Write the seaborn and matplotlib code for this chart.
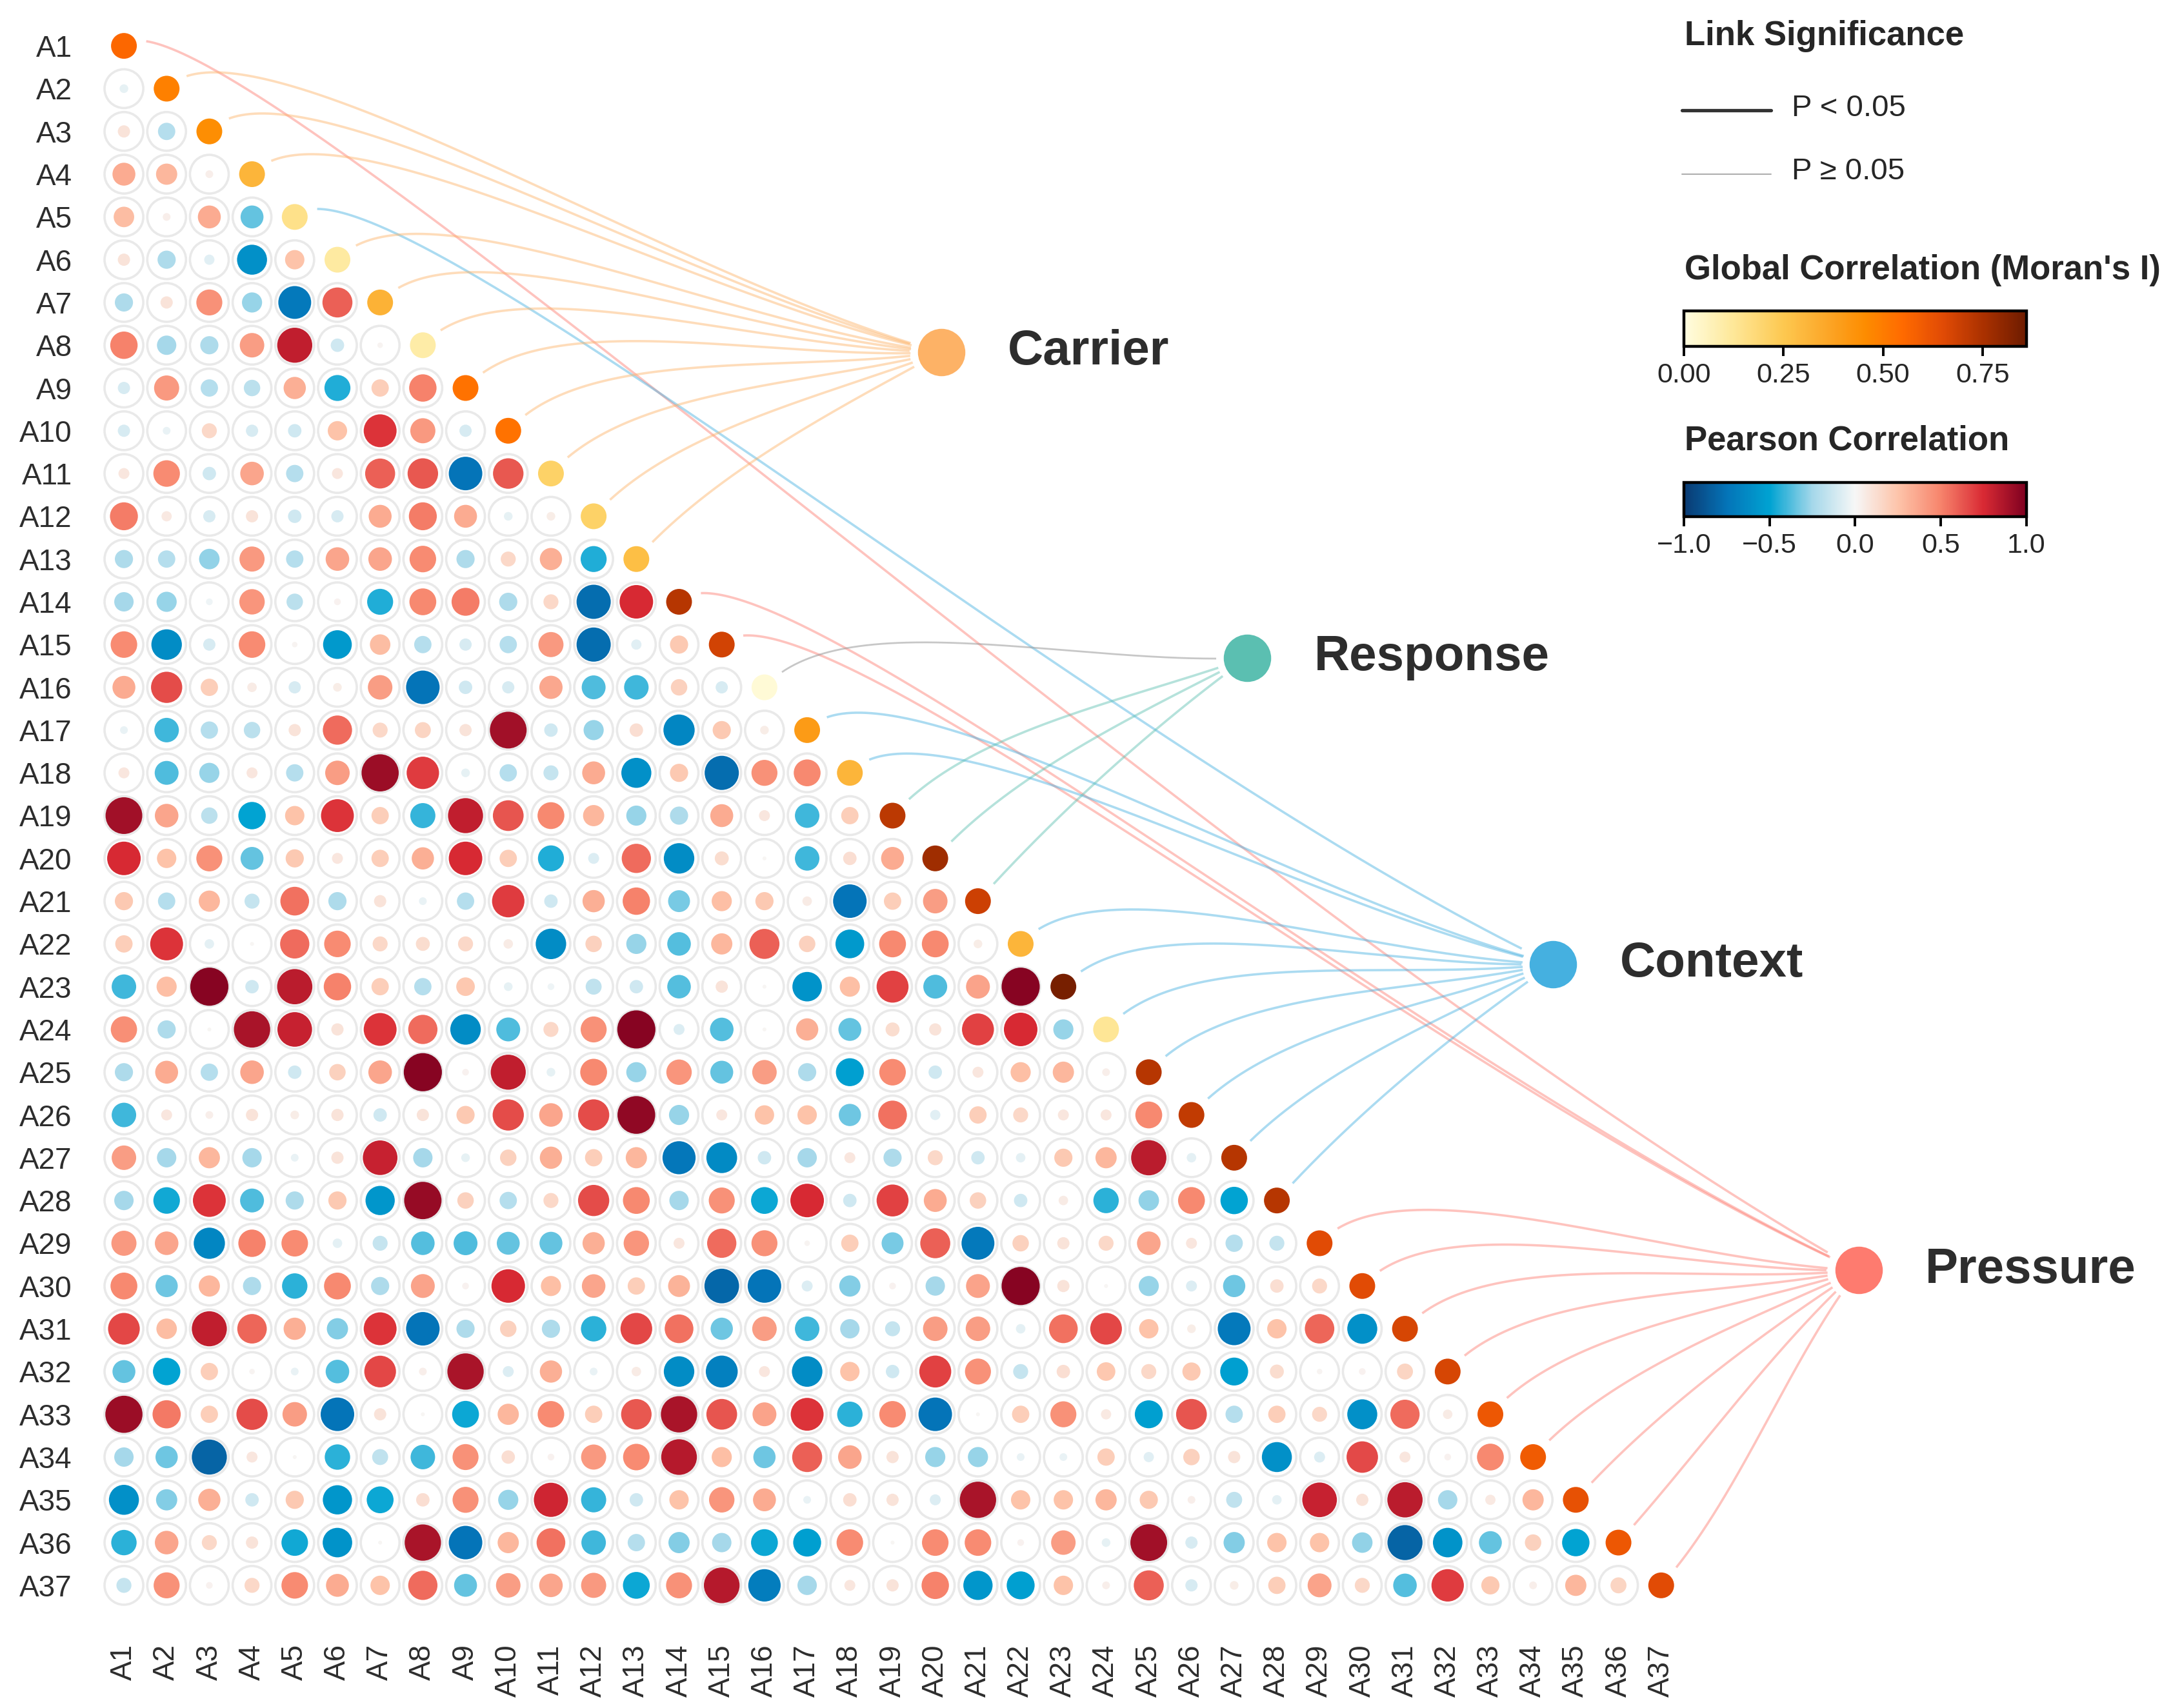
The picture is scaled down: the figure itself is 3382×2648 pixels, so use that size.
import numpy as np
import pandas as pd
import matplotlib
matplotlib.use("Agg")
import matplotlib.pyplot as plt
import seaborn as sns
from matplotlib.colors import LinearSegmentedColormap, Normalize
from matplotlib.cm import ScalarMappable
from matplotlib.lines import Line2D

sns.set_theme(style="white")
plt.rcParams["font.family"] = ["Liberation Sans", "DejaVu Sans"]

labels = [f"A{i}" for i in range(1, 38)]

# lower triangle of Pearson r, row Ai holds r(Ai, A1..A(i-1))
r_rows = [
    [],
    [-0.05],
    [0.1, -0.2],
    [0.35, 0.3, 0.04],
    [0.28, 0.04, 0.35, -0.35],
    [0.1, -0.22, -0.07, -0.6, 0.25],
    [-0.22, 0.1, 0.45, -0.27, -0.72, 0.6],
    [0.5, -0.25, -0.22, 0.4, 0.82, -0.12, 0.02],
    [-0.1, 0.42, -0.2, -0.18, 0.33, -0.45, 0.2, 0.5],
    [-0.1, -0.04, 0.15, -0.1, -0.12, 0.25, 0.72, 0.42, -0.1],
    [0.08, 0.47, -0.12, 0.37, -0.2, 0.08, 0.6, 0.62, -0.75, 0.62],
    [0.52, 0.07, -0.1, 0.1, -0.12, -0.1, 0.35, 0.52, 0.35, -0.05, 0.05],
    [-0.22, -0.2, -0.28, 0.42, -0.2, 0.37, 0.37, 0.47, -0.22, 0.15, 0.33, -0.45],
    [-0.25, -0.27, -0.03, 0.43, -0.18, 0.03, -0.45, 0.48, 0.52, -0.22, 0.15, -0.78, 0.75],
    [0.47, -0.62, -0.1, 0.47, 0.02, -0.55, 0.28, -0.2, -0.1, -0.2, 0.42, -0.78, -0.07, 0.22],
    [0.35, 0.65, 0.2, 0.06, -0.1, 0.05, 0.4, -0.75, -0.12, -0.1, 0.36, -0.38, -0.4, 0.18, -0.1],
    [-0.04, -0.4, -0.2, -0.18, 0.1, 0.57, 0.15, 0.17, 0.1, 0.9, -0.12, -0.27, 0.12, -0.65, 0.22, 0.05],
    [0.08, -0.38, -0.27, 0.08, -0.2, 0.4, 0.92, 0.7, -0.05, -0.2, -0.15, 0.35, -0.6, 0.22, -0.78, 0.45, 0.48],
    [0.9, 0.37, -0.18, -0.5, 0.25, 0.72, 0.2, -0.42, 0.82, 0.63, 0.48, 0.3, -0.27, -0.22, 0.35, 0.08, -0.4, 0.2],
    [0.75, 0.25, 0.45, -0.35, 0.22, 0.08, 0.2, 0.33, 0.75, 0.2, -0.45, -0.08, 0.57, -0.62, 0.13, 0.01, -0.4, 0.12, 0.35],
    [0.22, -0.2, 0.3, -0.15, 0.55, -0.22, 0.1, -0.04, -0.2, 0.7, -0.12, 0.33, 0.5, -0.32, 0.27, 0.22, 0.06, -0.75, 0.2, 0.4],
    [0.2, 0.72, -0.06, 0.01, 0.57, 0.47, 0.15, 0.13, 0.15, 0.06, -0.62, 0.18, -0.27, -0.37, 0.3, 0.6, 0.18, -0.55, 0.48, 0.48, 0.05],
    [-0.4, 0.27, 0.97, -0.12, 0.83, 0.5, 0.2, -0.2, 0.23, -0.05, -0.03, -0.17, -0.12, -0.37, 0.1, 0.01, -0.58, 0.27, 0.68, -0.38, 0.38, 0.97],
    [0.46, -0.22, 0.01, 0.88, 0.8, 0.1, 0.72, 0.57, -0.62, -0.38, 0.15, 0.45, 0.97, -0.08, -0.37, 0.01, 0.33, -0.35, 0.13, 0.1, 0.68, 0.75, -0.27],
    [-0.22, 0.35, -0.2, 0.37, -0.12, 0.18, 0.37, 0.97, 0.03, 0.82, -0.05, 0.48,
     -0.27, 0.43, -0.35, 0.4, -0.22, -0.52, 0.47, -0.12, 0.08, 0.27, 0.3, 0.04],
    [-0.4, 0.08, 0.04, 0.1, 0.05, 0.1, -0.12, 0.1, 0.22, 0.65, 0.37, 0.65,
     0.95, -0.27, 0.08, 0.25, 0.25, -0.33, 0.55, -0.07, 0.2, 0.15, 0.08, 0.08, 0.48],
    [0.4, -0.25, 0.3, -0.25, -0.04, 0.1, 0.8, -0.25, -0.05, 0.18, 0.33, 0.2,
     0.3, -0.73, -0.63, -0.12, -0.25, 0.08, -0.22, 0.15, -0.12, -0.06, 0.22, 0.3, 0.83, -0.06],
    [-0.25, -0.47, 0.72, -0.38, -0.22, 0.22, -0.57, 0.93, 0.18, -0.2, 0.15, 0.65,
     0.48, -0.25, 0.45, -0.48, 0.75, -0.12, 0.68, 0.35, 0.18, -0.12, 0.06, -0.43, -0.28, 0.48, -0.5],
    [0.42, 0.37, -0.65, 0.5, 0.47, -0.06, -0.15, -0.37, -0.38, -0.35, -0.35, 0.33,
     0.43, 0.08, 0.57, 0.45, 0.02, 0.2, -0.32, 0.6, -0.72, 0.18, 0.1, 0.15, 0.37, 0.08, -0.2, -0.15],
    [0.48, -0.33, 0.3, -0.22, -0.43, 0.48, -0.22, 0.38, 0.03, 0.75, 0.27, 0.37,
     0.2, 0.32, -0.8, -0.75, -0.08, -0.3, 0.03, -0.25, 0.38, 0.97, 0.1, 0.01, -0.27, -0.08, -0.33, 0.12, 0.15],
    [0.67, 0.28, 0.82, 0.58, 0.33, -0.3, 0.72, -0.75, -0.22, 0.18, -0.22, -0.43,
     0.67, 0.55, -0.33, 0.4, -0.4, -0.25, -0.15, 0.4, 0.4, -0.06, 0.55, 0.67, 0.25, 0.05, -0.72, 0.25, 0.58, -0.6],
    [-0.35, -0.5, 0.2, 0.02, -0.04, -0.37, 0.67, 0.04, 0.88, -0.08, 0.33, -0.04,
     0.06, -0.62, -0.68, 0.08, -0.62, 0.25, -0.12, 0.68, 0.45, -0.15, 0.12, 0.23, 0.15, 0.22, -0.52, 0.13, 0.02, 0.03, 0.17],
    [0.92, 0.53, 0.2, 0.65, 0.4, -0.75, 0.1, 0.01, -0.48, 0.3, 0.47, 0.2,
     0.62, 0.88, 0.63, 0.38, 0.72, -0.43, 0.47, -0.75, 0.01, 0.2, 0.45, 0.07, -0.52, 0.63, -0.2, 0.2, 0.15, -0.6, 0.57, 0.06],
    [-0.25, -0.33, -0.82, 0.08, 0.01, -0.43, -0.17, -0.4, 0.45, 0.12, 0.03, 0.42,
     0.47, 0.85, 0.27, -0.33, 0.6, 0.37, 0.1, -0.27, -0.27, -0.04, -0.04, 0.2, -0.07, 0.18, 0.1, -0.6, -0.08, 0.66, 0.08, 0.03, 0.48],
    [-0.6, -0.3, 0.33, -0.12, 0.22, -0.57, -0.48, 0.12, 0.45, -0.27, 0.78, -0.42,
     -0.12, 0.25, 0.43, 0.35, -0.04, 0.12, 0.1, -0.08, 0.88, 0.25, 0.25, 0.3, 0.22, 0.04, -0.17, -0.06, 0.8, 0.1, 0.83, -0.25, 0.07, 0.3],
    [-0.43, 0.37, 0.15, 0.1, -0.47, -0.58, 0.01, 0.88, -0.75, 0.3, 0.55, -0.4,
     -0.2, -0.3, -0.25, -0.48, -0.52, 0.47, 0.01, 0.47, 0.47, 0.03, 0.4, -0.05, 0.9, -0.1, -0.3, 0.25, 0.25, -0.28, -0.82, -0.58, -0.35, 0.18, -0.5],
    [-0.15, 0.45, 0.03, 0.15, 0.47, 0.35, 0.25, 0.57, -0.35, 0.4, 0.37, 0.42,
     -0.48, 0.45, 0.85, -0.7, -0.25, 0.08, 0.1, 0.5, -0.57, -0.52, 0.25, 0.04, 0.6, -0.1, 0.05, 0.2, 0.38, 0.15, -0.37, 0.7, 0.22, 0.04, 0.3, 0.17],
]

moran = [0.56, 0.49, 0.45, 0.31, 0.15, 0.11, 0.32, 0.1, 0.53, 0.53, 0.21, 0.21, 0.28,
         0.73, 0.68, 0.02, 0.4, 0.31, 0.72, 0.77, 0.69, 0.31, 0.84, 0.13, 0.73, 0.71,
         0.73, 0.73, 0.65, 0.65, 0.67, 0.67, 0.61, 0.6, 0.63, 0.61, 0.65]

groups = ["Pressure", "Carrier", "Carrier", "Carrier", "Context", "Carrier", "Carrier",
          "Carrier", "Carrier", "Carrier", "Carrier", "Carrier", "Carrier", "Pressure",
          "Pressure", "Response", "Context", "Context", "Response", "Response", "Response",
          "Context", "Context", "Context", "Context", "Context", "Context", "Context",
          "Pressure", "Pressure", "Pressure", "Pressure", "Pressure", "Pressure", "Pressure",
          "Pressure", "Pressure"]
significant = [lab != "A16" for lab in labels]

group_names = ["Carrier", "Response", "Context", "Pressure"]
group_colors = {"Carrier": "#FDB266", "Response": "#5BBFB1",
                "Context": "#45B0E0", "Pressure": "#FE7B6F"}
node_pos = {"Carrier": (19.14, 7.16), "Response": (26.31, 14.31),
            "Context": (33.47, 21.47), "Pressure": (40.62, 28.63)}

pearson_cmap = LinearSegmentedColormap.from_list("pearson", [
    (0.0, "#0a3a72"), (0.125, "#0474b8"), (0.25, "#00a3d2"), (0.375, "#a5d8ea"),
    (0.5, "#f7f7f7"), (0.625, "#fdc4aa"), (0.75, "#f7846c"), (0.875, "#d92a34"),
    (1.0, "#7f0020")])
moran_max = 0.86
moran_cmap = LinearSegmentedColormap.from_list("moran", [
    (0.0, "#fffde0"), (0.14, "#fee89a"), (0.29, "#fdc850"), (0.41, "#fca82a"),
    (0.53, "#fd8c00"), (0.64, "#ff6a00"), (0.76, "#e04a05"), (0.88, "#a83000"),
    (1.0, "#6e1c00")])

n = len(labels)
cells = []
for i, row in enumerate(r_rows):
    for j, r in enumerate(row):
        cells.append({"col": j, "row": i, "r": r, "absr": abs(r)})
cells = pd.DataFrame(cells)
diag = pd.DataFrame({"col": range(n), "row": range(n), "moran": moran})

fig = plt.figure(figsize=(16.91, 13.24), dpi=200)
ax = fig.add_axes([0.04701, 0.05929, 0.72409, 0.92636])

full_s = 467
ax.scatter(cells["col"], cells["row"], s=full_s, facecolor="none",
           edgecolor="#e9e9e9", linewidth=1.3, zorder=1)
sns.scatterplot(data=cells, x="col", y="row", hue="r", palette=pearson_cmap,
                hue_norm=Normalize(-1, 1), size="absr", sizes=(0, full_s),
                size_norm=(0, 1), linewidth=0, legend=False, ax=ax, zorder=3)
sns.scatterplot(data=diag, x="col", y="row", hue="moran", palette=moran_cmap,
                hue_norm=Normalize(0, moran_max), s=207, linewidth=0,
                legend=False, ax=ax, zorder=3)


def link_path(p0, p3, num=300):
    p0 = np.asarray(p0, float)
    p3 = np.asarray(p3, float)
    d = p3 - p0
    p1 = p0 + np.array([1.8, -2.0])
    p2 = p3 - 0.35 * np.array([d[0], 0.8 * d[1]])
    t = np.linspace(0, 1, num)[:, None]
    pts = ((1 - t) ** 3 * p0 + 3 * t * (1 - t) ** 2 * p1
           + 3 * t ** 2 * (1 - t) * p2 + t ** 3 * p3)
    keep = (np.hypot(*(pts - p0).T) > 0.53) & (np.hypot(*(pts - p3).T) > 0.71)
    return pts[keep]


for i, (g, sig) in enumerate(zip(groups, significant)):
    pts = link_path((i, i), node_pos[g])
    if sig:
        ax.plot(pts[:, 0], pts[:, 1], color=group_colors[g], lw=1.3, alpha=0.45,
                solid_capstyle="butt", clip_on=False, zorder=2)
    else:
        ax.plot(pts[:, 0], pts[:, 1], color="#9a9a9a", lw=1.0, alpha=0.55,
                solid_capstyle="butt", clip_on=False, zorder=2)

for g in group_names:
    x, y = node_pos[g]
    ax.scatter([x], [y], s=700, color=group_colors[g], linewidth=0,
               clip_on=False, zorder=4)
    ax.text(x + 1.56, y, g, fontsize=27.5, fontweight="bold", color="#2d2d2d",
            ha="left", va="center", clip_on=False)

ax.set_xlim(-0.5, n - 0.5)
ax.set_ylim(n - 0.5, -0.5)
ax.set_xticks(range(n))
ax.set_xticklabels(labels, rotation=90, fontsize=16.5, color="#2d2d2d")
ax.set_yticks(range(n))
ax.set_yticklabels(labels, fontsize=16.5, color="#2d2d2d")
ax.tick_params(axis="both", length=0)
ax.tick_params(axis="y", pad=17)
ax.tick_params(axis="x", pad=21)
ax.set_xlabel("")
ax.set_ylabel("")
for sp in ax.spines.values():
    sp.set_visible(False)
ax.set_facecolor("none")

# legend block
lx = 0.772
fig.text(lx, 0.979, "Link Significance", fontsize=19, fontweight="bold",
         ha="left", va="center")
fig.add_artist(Line2D([0.7708, 0.8117], [0.9354, 0.9354], color="#333333", lw=1.9))
fig.add_artist(Line2D([0.7708, 0.8117], [0.8981, 0.8981], color="#aaaaaa", lw=0.7))
fig.text(0.8211, 0.9365, "P < 0.05", fontsize=17, ha="left", va="center")
fig.text(0.8211, 0.8996, "P \u2265 0.05", fontsize=17, ha="left", va="center")

fig.text(lx, 0.8418, "Global Correlation (Moran's I)", fontsize=19, fontweight="bold",
         ha="left", va="center")
cax1 = fig.add_axes([0.7717, 0.7972, 0.1570, 0.0208])
cb1 = fig.colorbar(ScalarMappable(Normalize(0, moran_max), moran_cmap), cax=cax1,
                   orientation="horizontal", ticks=[0, 0.25, 0.5, 0.75])
cb1.ax.set_xticklabels(["0.00", "0.25", "0.50", "0.75"])

fig.text(lx, 0.7417, "Pearson Correlation", fontsize=19, fontweight="bold",
         ha="left", va="center")
cax2 = fig.add_axes([0.7717, 0.6975, 0.1570, 0.0200])
cb2 = fig.colorbar(ScalarMappable(Normalize(-1, 1), pearson_cmap), cax=cax2,
                   orientation="horizontal", ticks=[-1, -0.5, 0, 0.5, 1])
cb2.ax.set_xticklabels(["\u22121.0", "\u22120.5", "0.0", "0.5", "1.0"])

for cb in (cb1, cb2):
    cb.outline.set_linewidth(1.6)
    cb.outline.set_edgecolor("black")
    cb.ax.tick_params(length=5.5, width=1.4, labelsize=15.5, color="black",
                      direction="out", bottom=True)

fig.savefig("out.png", dpi=200, facecolor="white")
